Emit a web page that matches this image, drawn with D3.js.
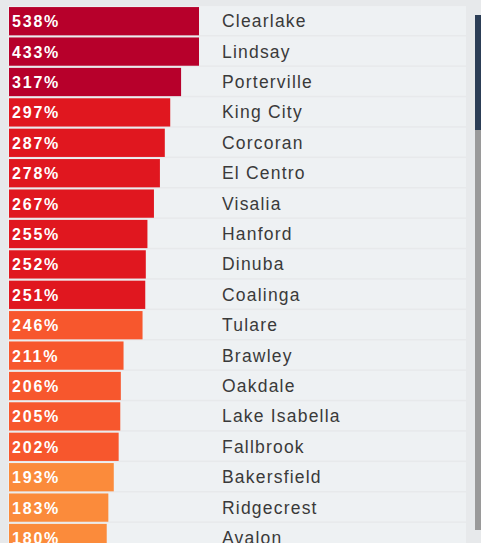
<!DOCTYPE html>
<html>
<head>
<meta charset="utf-8">
<script src="https://cdn.jsdelivr.net/npm/d3@7"></script>
<style>
  html, body { margin: 0; padding: 0; background: #e7e9eb; overflow: hidden; }
  svg { display: block; font-family: "Liberation Sans", Arial, sans-serif; }
</style>
</head>
<body>
<script>
// city names, top to bottom
const cities = ['Clearlake', 'Lindsay', 'Porterville', 'King City', 'Corcoran', 'El Centro',
  'Visalia', 'Hanford', 'Dinuba', 'Coalinga', 'Tulare', 'Brawley', 'Oakdale',
  'Lake Isabella', 'Fallbrook', 'Bakersfield', 'Ridgecrest', 'Avalon'];
// percent values shown in the bars
const values = [538, 433, 317, 297, 287, 278, 267, 255, 252, 251, 246, 211, 206, 205, 202, 193, 183, 180];

const data = cities.map((c, i) => ({ city: c, value: values[i] }));

const W = 481, H = 543;
const svg = d3.select('body').append('svg')
  .attr('width', W)
  .attr('height', H);

// rows
const y = d3.scaleBand()
  .domain(cities)
  .range([6, 6 + cities.length * 30.4])
  .paddingInner(0.07)
  .paddingOuter(0.035);

// bar widths (long bars are capped at the column edge)
const x = d3.scaleLinear()
  .domain([0, 350])
  .range([9, 199])
  .clamp(true);

const color = d3.scaleThreshold()
  .domain([200, 250, 300])
  .range(['#fb8b3b', '#f7572d', '#e0171f', '#b7002b']);

// row backgrounds
svg.append('g').selectAll('rect')
  .data(data)
  .join('rect')
  .attr('x', 8)
  .attr('y', d => y(d.city) - 1)
  .attr('width', 458)
  .attr('height', y.step() - 1.5)
  .attr('fill', '#eef1f3');

// bars
svg.append('g').selectAll('rect')
  .data(data)
  .join('rect')
  .attr('x', x(0))
  .attr('y', d => y(d.city))
  .attr('width', d => x(d.value) - x(0))
  .attr('height', y.bandwidth())
  .attr('fill', d => color(d.value));

// value labels
svg.append('g').selectAll('text')
  .data(data)
  .join('text')
  .attr('x', 12)
  .attr('y', d => y(d.city) + y.bandwidth() / 2 + 0.5)
  .attr('dominant-baseline', 'central')
  .attr('fill', '#fff')
  .attr('font-size', 16)
  .attr('font-weight', 'bold')
  .attr('letter-spacing', 1.8)
  .text(d => d.value + '%');

// city names
svg.append('g').selectAll('text')
  .data(data)
  .join('text')
  .attr('x', 222)
  .attr('y', d => y(d.city) + y.bandwidth() / 2)
  .attr('dominant-baseline', 'central')
  .attr('fill', '#3a3a3a')
  .attr('font-size', 17.5)
  .attr('letter-spacing', 1.2)
  .text(d => d.city);

// scrollbar
svg.append('rect')
  .attr('x', 475).attr('y', 130)
  .attr('width', 6).attr('height', 400)
  .attr('fill', '#9a9a9a');
svg.append('rect')
  .attr('x', 475).attr('y', 15)
  .attr('width', 6).attr('height', 115)
  .attr('fill', '#2c3e56');
</script>
</body>
</html>
